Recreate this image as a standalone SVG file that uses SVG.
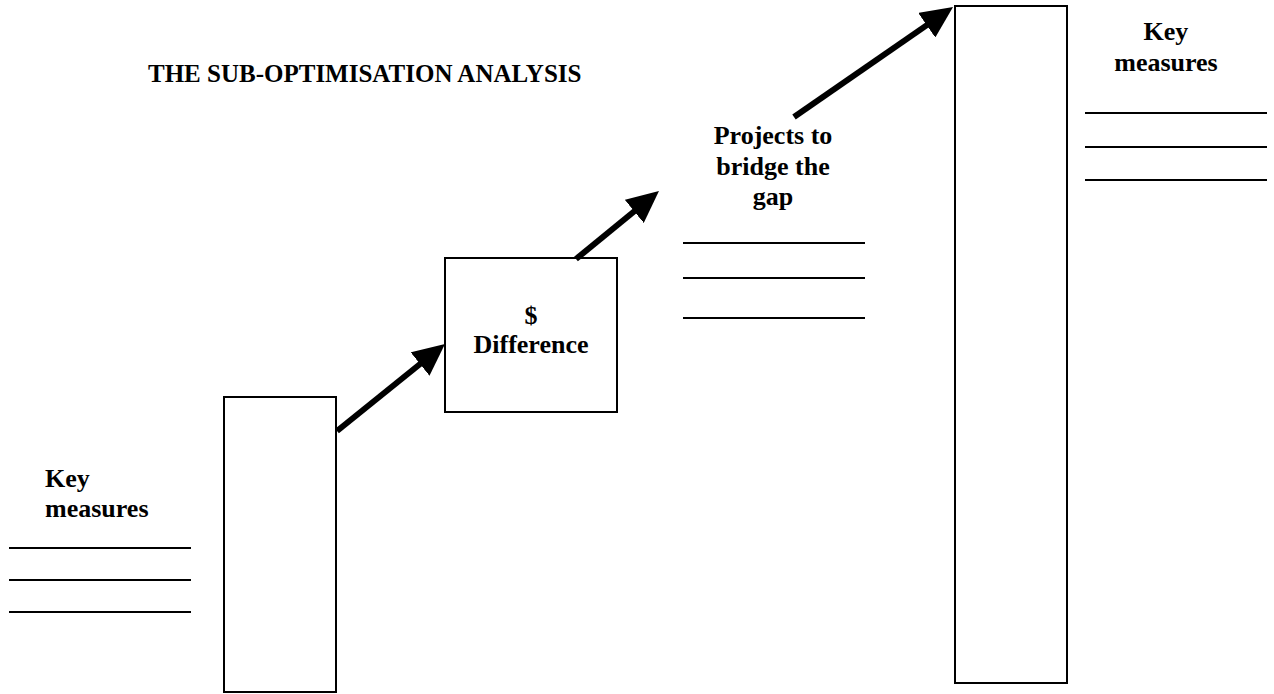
<svg xmlns="http://www.w3.org/2000/svg" width="1274" height="694" viewBox="0 0 1274 694">
<style>
text{font-family:"Liberation Serif","Times New Roman",serif;font-weight:bold;font-size:26px;fill:#000}
.title{font-size:25px}
.box{fill:#fff;stroke:#000;stroke-width:2}
.rule{stroke:#000;stroke-width:2}
.arrow{stroke:#000;stroke-width:6;fill:none;marker-end:url(#head)}
</style>
<defs>
<marker id="head" viewBox="0 0 32 30" markerWidth="32" markerHeight="30" refX="12" refY="15" orient="auto" markerUnits="userSpaceOnUse">
<path d="M0,0 L32,15 L0,30 z" fill="#000"/>
</marker>
</defs>
<rect width="1274" height="694" fill="#fff"/>
<g id="title"><text class="title" x="148" y="82">THE SUB-OPTIMISATION ANALYSIS</text></g>
<g id="key-left">
<text x="45" y="487">Key</text>
<text x="45" y="517">measures</text>
<line class="rule" x1="9" y1="548" x2="191" y2="548"/>
<line class="rule" x1="9" y1="580" x2="191" y2="580"/>
<line class="rule" x1="9" y1="612" x2="191" y2="612"/>
</g>
<g id="bar-left"><rect class="box" x="224" y="397" width="112" height="295"/></g>
<g id="difference">
<rect class="box" x="445" y="258" width="172" height="154"/>
<text x="531" y="324" text-anchor="middle">$</text>
<text x="531" y="353" text-anchor="middle">Difference</text>
</g>
<g id="projects">
<text x="773" y="144" text-anchor="middle">Projects to</text>
<text x="773" y="175" text-anchor="middle">bridge the</text>
<text x="773" y="205" text-anchor="middle">gap</text>
<line class="rule" x1="683" y1="243" x2="865" y2="243"/>
<line class="rule" x1="683" y1="278" x2="865" y2="278"/>
<line class="rule" x1="683" y1="318" x2="865" y2="318"/>
</g>
<g id="bar-right"><rect class="box" x="955" y="6" width="112" height="677"/></g>
<g id="key-right">
<text x="1166" y="40" text-anchor="middle">Key</text>
<text x="1166" y="71" text-anchor="middle">measures</text>
<line class="rule" x1="1085" y1="113" x2="1267" y2="113"/>
<line class="rule" x1="1085" y1="147" x2="1267" y2="147"/>
<line class="rule" x1="1085" y1="180" x2="1267" y2="180"/>
</g>
<g id="connectors">
<line class="arrow" x1="337" y1="431" x2="429.4" y2="356.5"/>
<line class="arrow" x1="576" y1="259" x2="643.5" y2="203.7"/>
<line class="arrow" x1="794" y1="117" x2="936.6" y2="18.4"/>
</g>
</svg>
